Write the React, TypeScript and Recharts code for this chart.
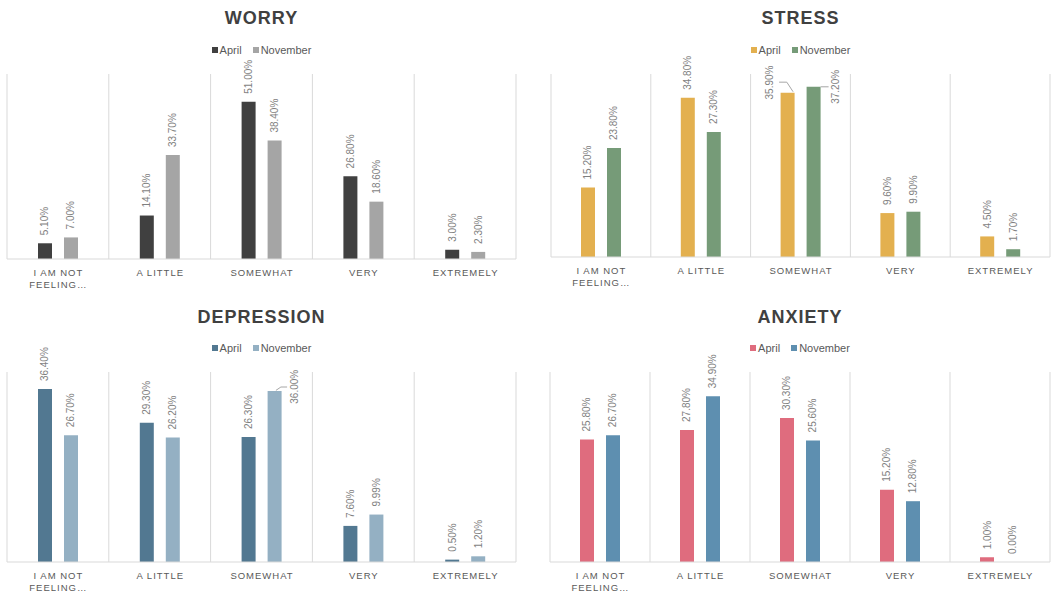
import React from 'react';
import { BarChart, Bar, XAxis, YAxis, CartesianGrid, Legend, LabelList } from 'recharts';

const categories = ['I AM NOT FEELING…', 'A LITTLE', 'SOMEWHAT', 'VERY', 'EXTREMELY'];
const seriesNames = ['April', 'November'];

const worryApril = [5.1, 14.1, 51.0, 26.8, 3.0];
const worryNovember = [7.0, 33.7, 38.4, 18.6, 2.3];
const stressApril = [15.2, 34.8, 35.9, 9.6, 4.5];
const stressNovember = [23.8, 27.3, 37.2, 9.9, 1.7];
const depressionApril = [36.4, 29.3, 26.3, 7.6, 0.5];
const depressionNovember = [26.7, 26.2, 36.0, 9.99, 1.2];
const anxietyApril = [25.8, 27.8, 30.3, 15.2, 1.0];
const anxietyNovember = [26.7, 34.9, 25.6, 12.8, 0.0];

const FONT = '"Liberation Sans", Arial, sans-serif';

type Callout = { labelDx: number; labelDy: number; leader: number[][] };
type Callouts = Record<string, Callout>;

const WrappedTick = (props: any) => {
  const { x, y, payload } = props;
  const words = String(payload.value).split(' ');
  const lines: string[] = [];
  let cur = '';
  for (const w of words) {
    const t = cur ? cur + ' ' + w : w;
    if (t.length > 9 && cur) {
      lines.push(cur);
      cur = w;
    } else cur = t;
  }
  lines.push(cur);
  return (
    <g transform={`translate(${x},${y})`}>
      {lines.map((l, i) => (
        <text
          key={i}
          x={0.5}
          y={13 + i * 12}
          textAnchor="middle"
          dominantBaseline="central"
          fill="#595959"
          fontSize={9.5}
          letterSpacing={1}
        >
          {l}
        </text>
      ))}
    </g>
  );
};

const makeLabel = (series: string, callouts: Callouts) => (props: any) => {
  const { x, y, width, height, value, index } = props;
  const bx = Number(x);
  const by = Number(y) + Math.min(0, Number(height) || 0);
  const cx = bx + Number(width) / 2;
  const text = `${Number(value).toFixed(2)}%`;
  const spec = callouts[`${series}-${index}`];
  if (!spec) {
    const ay = by - 8;
    return (
      <text
        x={cx}
        y={ay}
        transform={`rotate(-90 ${cx} ${ay})`}
        textAnchor="start"
        dominantBaseline="central"
        fontSize={10}
        fill="#7f7f7f"
      >
        {text}
      </text>
    );
  }
  const lx = cx + spec.labelDx;
  const ly = by + spec.labelDy;
  const pts = spec.leader.map((p) => `${cx + p[0]},${by + p[1]}`).join(' ');
  return (
    <g>
      <polyline points={pts} fill="none" stroke="#a6a6a6" strokeWidth={1} />
      <text
        x={lx}
        y={ly}
        transform={`rotate(-90 ${lx} ${ly})`}
        textAnchor="start"
        dominantBaseline="central"
        fontSize={10}
        fill="#7f7f7f"
      >
        {text}
      </text>
    </g>
  );
};

const LegendContent = (props: any) => {
  const { payload } = props;
  return (
    <div
      style={{
        height: 16,
        display: 'flex',
        justifyContent: 'center',
        alignItems: 'center',
        fontSize: 11,
        color: '#595959',
        fontFamily: FONT,
      }}
    >
      {(payload || []).map((p: any, i: number) => (
        <span
          key={i}
          style={{ display: 'inline-flex', alignItems: 'center', marginRight: i === 0 ? 11 : 0 }}
        >
          <span style={{ width: 6, height: 6, background: p.color, marginRight: 2, display: 'inline-block' }} />
          {p.value}
        </span>
      ))}
    </div>
  );
};

const categoryBoundaries = (args: any) => {
  const off = args.offset;
  const n = categories.length;
  return Array.from({ length: n + 1 }, (_, i) => off.left + (i * off.width) / n);
};

type PanelProps = {
  title: string;
  april: number[];
  november: number[];
  colors: string[];
  yMax: number;
  left: number;
  top: number;
  width: number;
  height: number;
  margin: { top: number; right: number; bottom: number; left: number };
  legendTop: number;
  titleY: number;
  callouts: Callouts;
};

const zeroMin = (v: any) => (Number(v) === 0 ? 0.01 : 0);

const Panel = (p: PanelProps) => {
  const data = categories.map((c, i) => ({ category: c, april: p.april[i], november: p.november[i] }));
  const plotW = p.width - p.margin.left - p.margin.right;
  return (
    <div style={{ position: 'absolute', left: p.left, top: p.top, width: p.width, height: p.height }}>
      <div
        style={{
          position: 'absolute',
          left: p.margin.left,
          width: plotW,
          top: p.titleY - 12,
          height: 24,
          lineHeight: '24px',
          textAlign: 'center',
          fontSize: 18,
          fontWeight: 'bold',
          letterSpacing: 1,
          color: '#404040',
          fontFamily: FONT,
          zIndex: 2,
        }}
      >
        {p.title}
      </div>
      <BarChart width={p.width} height={p.height} data={data} margin={p.margin} barGap={12}>
        <CartesianGrid horizontal={false} stroke="#d9d9d9" verticalCoordinatesGenerator={categoryBoundaries} />
        <XAxis
          dataKey="category"
          interval={0}
          height={30}
          tickLine={false}
          tickSize={0}
          tickMargin={0}
          axisLine={{ stroke: '#d9d9d9', strokeWidth: 1.2 }}
          tick={<WrappedTick />}
        />
        <YAxis hide domain={[0, p.yMax]} />
        <Legend
          verticalAlign="top"
          align="center"
          content={<LegendContent />}
          wrapperStyle={{ top: p.legendTop, left: p.margin.left, width: plotW }}
        />
        <Bar
          dataKey="april"
          name={seriesNames[0]}
          fill={p.colors[0]}
          barSize={14}
          minPointSize={zeroMin}
          isAnimationActive={false}
        >
          <LabelList dataKey="april" content={makeLabel('april', p.callouts)} />
        </Bar>
        <Bar
          dataKey="november"
          name={seriesNames[1]}
          fill={p.colors[1]}
          barSize={14}
          minPointSize={zeroMin}
          isAnimationActive={false}
        >
          <LabelList dataKey="november" content={makeLabel('november', p.callouts)} />
        </Bar>
      </BarChart>
    </div>
  );
};

const stressCallouts: Callouts = {
  'april-2': { labelDx: -18.2, labelDy: 6.7, leader: [[-8.5, -10.6], [-0.8, -10.6], [5.5, -1]] },
  'november-2': { labelDx: 21.8, labelDy: 17, leader: [[7, 0], [15, 0]] },
};
const depressionCallouts: Callouts = {
  'november-2': { labelDx: 19.6, labelDy: 12.7, leader: [[1.3, -0.6], [6.3, -4], [12.5, -4]] },
};

export default function App() {
  return (
    <div
      style={{
        position: 'absolute',
        left: 0,
        top: 0,
        width: 1063,
        height: 595,
        background: '#ffffff',
        fontFamily: FONT,
        overflow: 'hidden',
      }}
    >
      <Panel
        title="WORRY"
        april={worryApril}
        november={worryNovember}
        colors={['#404040', '#a5a5a5']}
        yMax={60}
        left={0}
        top={0}
        width={530}
        height={300}
        margin={{ top: 58, right: 14, bottom: 11, left: 7 }}
        legendTop={42}
        titleY={18}
        callouts={{}}
      />
      <Panel
        title="STRESS"
        april={stressApril}
        november={stressNovember}
        colors={['#e3b04f', '#769b78']}
        yMax={40}
        left={530}
        top={0}
        width={533}
        height={300}
        margin={{ top: 58, right: 13, bottom: 13, left: 21 }}
        legendTop={42}
        titleY={18}
        callouts={stressCallouts}
      />
      <Panel
        title="DEPRESSION"
        april={depressionApril}
        november={depressionNovember}
        colors={['#527891', '#94b0c3']}
        yMax={40}
        left={0}
        top={300}
        width={530}
        height={295}
        margin={{ top: 56, right: 14, bottom: 3, left: 7 }}
        legendTop={40}
        titleY={17}
        callouts={depressionCallouts}
      />
      <Panel
        title="ANXIETY"
        april={anxietyApril}
        november={anxietyNovember}
        colors={['#df6c7e', '#5e8fb0']}
        yMax={40}
        left={530}
        top={300}
        width={533}
        height={295}
        margin={{ top: 56, right: 13, bottom: 3, left: 20 }}
        legendTop={40}
        titleY={17}
        callouts={{}}
      />
    </div>
  );
}
